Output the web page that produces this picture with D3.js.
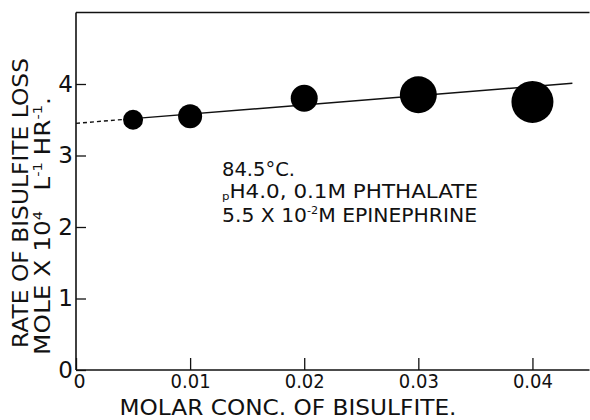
<!DOCTYPE html>
<html>
<head>
<meta charset="utf-8">
<script src="https://cdn.jsdelivr.net/npm/d3@7"></script>
<style>
  body { margin: 0; background: #fff; }
  svg { display: block; }
  text { font-family: "DejaVu Sans", sans-serif; fill: #111; }
</style>
</head>
<body>
<div id="chart"></div>
<script>
// --- DATOS ---
const conc = [0.005, 0.01, 0.02, 0.03, 0.04];        // M bisulfito
const rate = [3.50, 3.55, 3.80, 3.85, 3.75];         // mol x 10^4 L^-1 h^-1
const markerR = [10, 12, 13.5, 18.5, 21];            // tamaño de los puntos en la figura
const fitX = [0, 0.005, 0.0435];                     // recta: tramo punteado + tramo sólido
const fitY = [3.45, 3.515, 4.01];
const xTicks = [0, 0.01, 0.02, 0.03, 0.04];
const xTickLabels = ["0", "0.01", "0.02", "0.03", "0.04"];
const yTicks = [0, 1, 2, 3, 4];

// --- CONFIGURACIÓN ---
const W = 590, H = 420;
const x = d3.scaleLinear().domain([0, 0.045]).range([76, 589.5]);
const y = d3.scaleLinear().domain([0, 5]).range([370, 12.5]);

const svg = d3.select("#chart").append("svg")
    .attr("width", W).attr("height", H);

// marco superior
svg.append("line")
    .attr("x1", x(0)).attr("x2", x(0.045))
    .attr("y1", y(5)).attr("y2", y(5))
    .attr("stroke", "#111").attr("stroke-width", 1.5);

// ejes (ticks hacia dentro)
const gx = svg.append("g")
    .attr("transform", `translate(0,${y(0)})`)
    .call(d3.axisBottom(x).tickValues(xTicks).tickSize(-12).tickSizeOuter(0).tickPadding(5)
        .tickFormat((d, i) => xTickLabels[i]));
const gy = svg.append("g")
    .attr("transform", `translate(${x(0)},0)`)
    .call(d3.axisLeft(y).tickValues(yTicks).tickSize(-10).tickSizeOuter(0).tickPadding(3)
        .tickFormat(d3.format("d")));

[gx, gy].forEach(g => {
    g.select(".domain").attr("stroke", "#111").attr("stroke-width", 1.6);
    g.selectAll(".tick line").attr("stroke", "#111").attr("stroke-width", 1.3);
    g.selectAll(".tick text").attr("fill", "#111").style("font-family", "DejaVu Sans");
});
gx.selectAll(".tick text").style("font-size", "19px")
    .attr("textLength", (d, i) => i === 0 ? null : 40).attr("lengthAdjust", "spacingAndGlyphs");
gx.selectAll(".tick text").filter(d => d === 0).attr("dx", 3);
gy.selectAll(".tick text").style("font-size", "23px");
gx.select(".domain").attr("d", `M${x(0)},0H${x(0.045)}`);
gy.select(".domain").attr("d", `M0,${y(0)}V${y(5)}`);

// recta ajustada
const line = d3.line().x(d => x(d[0])).y(d => y(d[1]));
const fit = fitX.map((v, i) => [v, fitY[i]]);
svg.append("path")
    .attr("d", line(fit.slice(0, 2)))
    .attr("fill", "none").attr("stroke", "#111").attr("stroke-width", 1.4)
    .attr("stroke-dasharray", "4,3");
svg.append("path")
    .attr("d", line(fit.slice(1)))
    .attr("fill", "none").attr("stroke", "#111").attr("stroke-width", 1.4);

// puntos
svg.selectAll("circle.pt")
    .data(conc)
    .join("circle")
    .attr("class", "pt")
    .attr("cx", d => x(d))
    .attr("cy", (d, i) => y(rate[i]))
    .attr("r", (d, i) => markerR[i])
    .attr("fill", "#000");

// títulos de ejes
svg.append("text")
    .attr("x", 288).attr("y", 415)
    .attr("text-anchor", "middle")
    .attr("textLength", 337).attr("lengthAdjust", "spacingAndGlyphs")
    .style("font-size", "22px")
    .text("MOLAR  CONC.  OF  BISULFITE.");

svg.append("text")
    .attr("transform", "translate(28,203) rotate(-90)")
    .attr("text-anchor", "middle")
    .attr("textLength", 290).attr("lengthAdjust", "spacingAndGlyphs")
    .style("font-size", "22px")
    .text("RATE  OF  BISULFITE  LOSS");

const t2 = svg.append("text")
    .attr("transform", "translate(50,355) rotate(-90)")
    .attr("textLength", 258).attr("lengthAdjust", "spacingAndGlyphs")
    .style("font-size", "22px");
t2.append("tspan").text("MOLE X 10");
t2.append("tspan").attr("dy", -8).style("font-size", "13px").text("4");
t2.append("tspan").attr("dy", 8).attr("dx", 18).text("L");
t2.append("tspan").attr("dy", -8).style("font-size", "13px").text("-1");
t2.append("tspan").attr("dy", 8).attr("dx", 6).text("HR");
t2.append("tspan").attr("dy", -8).style("font-size", "13px").text("-1");
t2.append("tspan").attr("dy", 8).text(".");

// anotación
const nx = 222;
svg.append("text").attr("x", nx).attr("y", 176)
    .style("font-size", "20px")
    .attr("textLength", 73).attr("lengthAdjust", "spacingAndGlyphs")
    .text("84.5°C.");

const n2 = svg.append("text").attr("x", nx).attr("y", 198)
    .attr("textLength", 256).attr("lengthAdjust", "spacingAndGlyphs")
    .style("font-size", "20px");
n2.append("tspan").attr("dy", 2).style("font-size", "11px").text("p");
n2.append("tspan").attr("dy", -2).text("H4.0, 0.1M  PHTHALATE");

const n3 = svg.append("text").attr("x", nx).attr("y", 222)
    .attr("textLength", 255).attr("lengthAdjust", "spacingAndGlyphs")
    .style("font-size", "20px");
n3.append("tspan").text("5.5 X 10");
n3.append("tspan").attr("dy", -8).style("font-size", "11px").text("-2");
n3.append("tspan").attr("dy", 8).text("M  EPINEPHRINE");
</script>
</body>
</html>
